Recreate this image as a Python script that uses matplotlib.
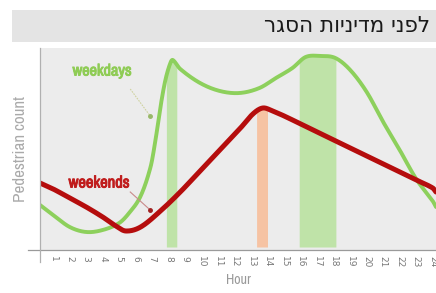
import matplotlib
matplotlib.use("Agg")
import matplotlib.pyplot as plt
from matplotlib import font_manager
import matplotlib.patheffects as pe
import numpy as np

# ---- data ----
title_text = "לפני מדיניות הסגר"
hour_ticks = list(range(1, 25))
tick_labels = [str(h) for h in hour_ticks]

wd_hours = [0.2, 1, 2, 3, 4, 5, 5.6, 6.3, 6.9, 7.2, 7.5, 7.8, 8.1, 8.25, 8.7, 9.9, 11.1, 12.3, 13.5, 14.5, 15.5, 16.3, 17.2, 18.1, 19, 20, 21, 22, 23, 24, 24.2]
weekdays = [45, 35, 23, 18, 20, 27, 37, 54, 83, 110, 143, 170, 187, 190, 181, 167, 159, 157, 162, 172, 182, 193, 194, 192, 180, 158, 128, 100, 71, 49, 43]

we_hours = [0.2, 1, 2, 3, 4, 4.8, 5.4, 6.3, 7.5, 8.7, 9.9, 11.1, 12.3, 13.1, 13.7, 14.3, 15, 16, 17, 18, 19, 20, 21, 22, 23, 24, 24.2]
weekends = [67, 61, 52, 43, 33, 24, 19, 23, 39, 58, 79, 100, 121, 136, 142, 139, 134, 126, 118, 110, 102, 94, 86, 78, 70, 62, 58]

green_bands = [(7.85, 8.5), (15.9, 18.15)]
orange_bands = [(13.3, 14.0)]

# ---- fonts ----
def pick_condensed():
    for f in font_manager.fontManager.ttflist:
        n = f.name.lower()
        if ("narrow" in n or "condensed" in n) and "mono" not in n:
            return f.name
    for f in font_manager.fontManager.ttflist:
        if str(f.stretch) in ("condensed", "semi-condensed", "extra-condensed") and "Mono" not in f.name:
            return f.name
    return None

cond = pick_condensed()
narrow = [cond, "DejaVu Sans"] if cond else ["DejaVu Sans"]

# ---- figure ----
W, H = 436, 293
fig = plt.figure(figsize=(W / 100, H / 100), dpi=100)
fig.patch.set_facecolor("white")

fig.patches.append(plt.Rectangle((12 / W, 1 - 42 / H), 1 - 12 / W, 32 / H,
                                 transform=fig.transFigure, facecolor="#e4e4e4",
                                 edgecolor="none", zorder=0))
# reversed so that the right-to-left Hebrew reads correctly
fig.text(430 / W, 1 - 26 / H, title_text[::-1], ha="right", va="center",
         fontsize=15.5, color="#1a1a1a", family="DejaVu Sans")

ax = fig.add_axes([40 / W, 43 / H, 1 - 40 / W, (250 - 48) / H])
ax.set_facecolor("#ececec")
ax.set_xlim(0.2, 24.2)
ax.set_ylim(0, 202)

def smooth(xs, ys, n=800):
    xs = np.asarray(xs, float)
    ys = np.asarray(ys, float)
    xx = np.linspace(xs[0], xs[-1], n)
    yy = np.empty_like(xx)
    for i, x in enumerate(xx):
        k = np.searchsorted(xs, x) - 1
        k = min(max(k, 0), len(xs) - 2)
        x0, x1 = xs[k], xs[k + 1]
        y0, y1 = ys[k], ys[k + 1]
        m0 = (ys[k + 1] - ys[k - 1]) / (xs[k + 1] - xs[k - 1]) if k > 0 else (y1 - y0) / (x1 - x0)
        m1 = (ys[k + 2] - ys[k]) / (xs[k + 2] - xs[k]) if k + 2 < len(xs) else (y1 - y0) / (x1 - x0)
        h = x1 - x0
        t = (x - x0) / h
        yy[i] = ((2 * t**3 - 3 * t**2 + 1) * y0 + (t**3 - 2 * t**2 + t) * h * m0
                 + (-2 * t**3 + 3 * t**2) * y1 + (t**3 - t**2) * h * m1)
    return xx, yy

gx, gy = smooth(wd_hours, weekdays)
rx, ry = smooth(we_hours, weekends)

for a, b in green_bands:
    m = (gx >= a) & (gx <= b)
    ax.fill_between(gx[m], 3, gy[m], color="#bfe3a8", lw=0, zorder=1)
for a, b in orange_bands:
    m = (rx >= a) & (rx <= b)
    ax.fill_between(rx[m], 3, ry[m], color="#f6c3a3", lw=0, zorder=1)

ax.plot(gx, gy, color="#8dd05c", lw=2.8, zorder=3, solid_capstyle="round")
ax.plot(rx, ry, color="#b50d0d", lw=3.6, zorder=4, solid_capstyle="round")

fig.canvas.draw()
renderer = fig.canvas.get_renderer()

def fit_width(t, target_px, horizontal=True):
    bb = t.get_window_extent(renderer)
    cur = bb.width if horizontal else bb.height
    if cur > 0:
        t.set_fontsize(t.get_fontsize() * target_px / cur)

g_col, r_col = "#8fcc55", "#c01c1c"
t1 = ax.text(3.97, 179, "weekdays", color=g_col, fontsize=11, fontweight="bold",
             family=narrow, ha="center", va="center", zorder=5,
             path_effects=[pe.withStroke(linewidth=0.7, foreground=g_col)])
t2 = ax.text(3.79, 67, "weekends", color=r_col, fontsize=11, fontweight="bold",
             family=narrow, ha="center", va="center", zorder=5,
             path_effects=[pe.withStroke(linewidth=0.7, foreground=r_col)])
fit_width(t1, 59)
fit_width(t2, 61)

ax.plot([5.67, 6.88], [161, 134], color="#cfd2a0", lw=0.8, ls=(0, (1.5, 1)), zorder=5)
ax.plot([6.88], [134], "o", color="#98b868", ms=2.5, zorder=5)
ax.plot([5.67, 6.88], [58, 40], color="#c98a8a", lw=0.8, zorder=5)
ax.plot([6.88], [40], "o", color="#a02020", ms=2.5, zorder=5)

for s in ["top", "right", "left", "bottom"]:
    ax.spines[s].set_visible(False)
ax.plot([-12 / 396, 1], [0, 0], transform=ax.transAxes, color="#9a9a9a", lw=0.9, clip_on=False, zorder=6)
ax.plot([0, 0], [-12 / 202, 1], transform=ax.transAxes, color="#b0b0b0", lw=0.9, clip_on=False, zorder=6)

ax.set_yticks([])
ax.set_xticks(hour_ticks)
ax.set_xticklabels(tick_labels, rotation=270, fontsize=6.5, color="#777777")
ax.tick_params(axis="x", length=0, pad=4)

xl = ax.set_xlabel("Hour", fontsize=10, color="#999999", family=narrow, labelpad=4)
yl = ax.set_ylabel("Pedestrian count", fontsize=9, color="#aaaaaa", family=narrow, labelpad=9)
fig.canvas.draw()
fit_width(yl, 106, horizontal=False)
fit_width(xl, 25)

fig.savefig("out.png", dpi=100)
